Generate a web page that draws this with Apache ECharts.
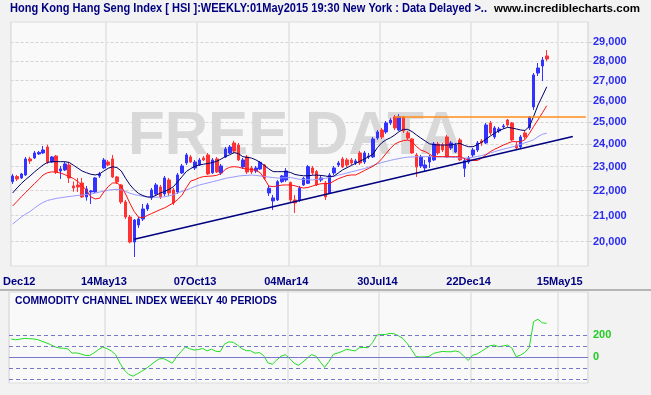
<!DOCTYPE html>
<html>
<head>
<meta charset="utf-8">
<script src="https://cdn.jsdelivr.net/npm/echarts@6.0.0/dist/echarts.min.js"></script>
<style>
html,body{margin:0;padding:0;background:#f2f2f2;overflow:hidden;}
#chart{width:651px;height:395px;}
</style>
</head>
<body>
<div id="chart"></div>
<script>
// ---------------- data ----------------
const weekCount = 133;                 // weekly slots on the axis (incl. empty right margin)
const firstWeekUTC = Date.UTC(2012, 11, 17);

const opens = [22370,22580,22522,22648,23334,23377,23552,23596,23860,23203,
23464,22818,22860,23074,22189,22230,22313,21739,21942,21942,
22606,22945,23203,23334,22564,22230,21537,20942,19988,20632,
20864,21257,21699,21861,22148,21861,22438,22024,21942,22733,
23160,23421,22945,23074,23377,23508,22740,23334,22733,23421,
23596,24040,23949,22988,23421,22945,22818,22903,23074,21901,
21577,21617,22368,22438,22327,21617,21617,22230,22300,22945,
22790,22438,22313,21901,22733,23074,23334,23290,23290,23160,
23596,23203,23421,23421,24264,24628,24537,24953,25233,24628,
25233,24491,24219,23508,23031,22945,23203,23290,23995,23949,
24310,23816,23640,24174,22930,23203,23508,23728,24129,24040,
24953,24310,24583,24768,25092,24953,23949,23860,24491,24722,
25710,27387,27747,28270];

const closes = [22606,22480,22690,23334,23247,23596,23620,23728,23203,23421,
22775,22903,23117,22522,22106,22148,21739,22065,21983,22522,
22690,23290,23074,22564,22355,21537,20942,19988,20825,20864,
21257,21416,22024,22230,21739,22522,21901,21497,22648,23031,
23508,23203,23203,23290,23290,22690,23290,22775,23031,23772,
23860,23684,23290,23290,22775,22775,22945,23185,22510,22094,
21699,22368,22606,22818,21617,21497,22094,22508,23002,22733,
22230,22522,21739,22648,22945,23160,22988,23074,23160,23247,
23160,23596,23464,24219,24537,24310,24953,25092,24722,25240,
24583,24264,23596,22988,23421,23074,23421,23995,23596,23728,
23421,24040,23949,23290,23260,23377,23728,24040,24040,24860,
24491,24722,24676,24814,24860,24174,23816,24310,24310,25233,
27285,27643,28060,28112];

const lows = [22272,22397,22480,22606,23117,23334,23508,23552,23117,23160,
22690,22480,22818,22313,21950,21942,21699,21590,21456,21901,
22522,22903,23031,22522,22272,21456,20864,19940,19437,20520,
20786,21178,21617,21779,21658,21779,21779,21416,21861,22690,
23074,23160,22860,23031,23247,22648,22690,22733,22648,23377,
23552,23596,23247,22903,22690,22690,22733,22860,22438,21779,
21217,21577,22313,22355,21497,21099,21537,22189,22272,22648,
22189,22355,21617,21861,22648,22988,22945,22988,23074,23074,
23074,23117,23334,23377,24174,24219,24446,24860,24628,24583,
24491,24174,23552,22564,22945,22775,22945,23247,23508,23640,
23377,23728,23596,23247,22564,23117,23421,23640,23905,23995,
24400,24219,24491,24676,24768,24129,23728,23816,24219,24628,
25564,27234,26980,28007];

const highs = [22690,22648,22733,23421,23430,23684,23684,23905,23960,23464,
23508,23031,23203,23210,22370,22522,22522,22189,22024,22564,
22775,23377,23290,23508,22606,22272,21617,21020,20864,20942,
21456,21497,22106,22313,22230,22606,22522,22106,22733,23117,
23596,23508,23290,23377,23464,23596,23377,23421,23117,23860,
23949,24140,24040,23377,23508,23031,23031,23247,23117,22189,
21820,22438,22648,22945,22370,21820,22189,22564,23074,23031,
22860,22606,22397,22733,23031,23247,23421,23377,23377,23334,
23684,23684,23596,24310,24628,24722,25046,25186,25327,25362,
25280,24583,24264,23596,23508,23290,23508,24084,24084,24040,
24400,24129,24040,24264,23377,23464,23816,24129,24219,24953,
25046,24814,24768,24906,25139,24999,24084,24400,24583,25280,
27387,27902,28218,28586];

// moving averages
const maShort = [21901,22106,22292,22459,22606,22775,22924,23074,23182,23216,
23216,23216,23216,23182,23061,22937,22814,22741,22678,22648,
22690,22818,22932,22997,22962,22818,22509,22238,22032,21881,
21795,21739,21731,21803,21901,21963,22049,22156,22359,22577,
22797,22920,23018,23074,23108,23138,23177,23234,23330,23438,
23517,23614,23565,23434,23403,23373,23294,23186,23044,22903,
22788,22788,22788,22788,22754,22669,22635,22614,22614,22635,
22644,22627,22606,22572,22602,22733,22864,22958,23053,23147,
23238,23334,23430,23543,23834,24049,24183,24273,24400,24555,
24656,24656,24551,24400,24260,24129,24000,23968,23949,23949,
23949,23953,23990,24017,23932,23873,23873,23958,24071,24210,
24351,24482,24592,24680,24750,24717,24676,24628,24606,24795,
25271,25804,26239,26692];

const maMid = [21376,21557,21747,21922,22102,22284,22455,22648,22741,22780,
22763,22733,22661,22585,22497,22376,22197,22012,21743,21658,
21686,21946,22160,22313,22313,22181,21857,21481,21151,20934,
20922,21000,21079,21154,21233,21301,21400,21497,21634,21812,
22119,22393,22451,22535,22581,22593,22606,22631,22716,22886,
22979,23001,22979,22932,22890,22890,22839,22746,22484,22181,
22160,22189,22226,22230,22230,22197,22139,22102,22127,22181,
22238,22280,22288,22288,22397,22489,22556,22623,22648,22648,
22737,22835,22928,23022,23151,23342,23574,23799,23986,24084,
24147,24169,24093,23882,23719,23658,23539,23434,23434,23434,
23434,23434,23434,23434,23351,23281,23273,23264,23364,23512,
23653,23759,23849,23945,24026,24098,24098,24098,24188,24468,
24796,25102,25431,25770];

const maLong = [20670,20806,20942,21059,21158,21289,21416,21517,21597,21638,
21679,21707,21731,21755,21779,21800,21820,21837,21857,21894,
21938,21975,22012,22040,22049,22032,21963,21889,21837,21800,
21767,21739,21727,21727,21731,21747,21784,21828,21901,21967,
22028,22090,22168,22230,22272,22317,22363,22405,22455,22505,
22539,22568,22602,22623,22631,22644,22631,22606,22585,22560,
22539,22518,22522,22530,22543,22505,22467,22459,22447,22438,
22459,22484,22505,22551,22593,22640,22686,22733,22780,22826,
22873,22920,22980,23053,23121,23177,23225,23273,23316,23351,
23390,23412,23421,23430,23434,23434,23434,23434,23425,23421,
23412,23408,23395,23382,23369,23373,23408,23443,23482,23539,
23596,23653,23710,23763,23812,23860,23909,23981,24049,24112,
24183,24328,24432,24482];

const cci = [166,159,165,172,170,167,162,147,132,117,
96,85,82,76,38,40,30,18,16,39,
69,93,79,58,23,-55,-116,-156,-172,-150,
-126,-103,-72,-41,-15,-11,-32,-54,4,50,
93,78,66,70,80,58,74,55,51,120,
140,137,110,78,60,60,37,43,15,-52,
-63,-25,10,23,-12,-54,-73,-43,-9,25,
10,-42,-92,-39,27,38,53,72,65,58,
87,90,87,133,202,208,207,218,214,195,
170,124,68,6,3,4,8,35,45,53,
51,50,58,48,8,-29,19,29,54,79,
105,111,96,103,111,85,6,19,45,89,
324,346,314,309];

const priceTicks = [20000,21000,22000,23000,24000,25000,26000,27000,28000,29000];
const cciTicks = [0, 200];
const cciDashedLevels = [-200, -100, 100, 200];
const xLabelIdx = [0, 21, 42, 63, 84, 105, 126];
const xLabelText = ['Dec12','14May13','07Oct13','04Mar14','30Jul14','22Dec14','15May15'];
const xGridIdx = [0, 22, 43, 64, 85, 106, 126];
const trendLine = [[28, 20090], [129, 24335]];
const resistanceLine = [[88, 25230], [132, 25230]];

// ---------------- chart ----------------
const MON = ['Jan','Feb','Mar','Apr','May','Jun','Jul','Aug','Sep','Oct','Nov','Dec'];
const weeks = [];
for (let i = 0; i < weekCount; i++) {
  const d = new Date(firstWeekUTC + i * 7 * 86400000);
  weeks.push(String(d.getUTCDate()).padStart(2,'0') + MON[d.getUTCMonth()] + String(d.getUTCFullYear()).slice(2));
}
const candles = opens.map((o, i) => [o, closes[i], lows[i], highs[i]]);
const labelMap = {};
xLabelIdx.forEach((k, j) => labelMap[k] = xLabelText[j]);

const FONT = '"Liberation Sans", Arial, sans-serif';
const mctx = document.createElement('canvas').getContext('2d');
function fitScale(text, font, width) { mctx.font = font; return width / mctx.measureText(text).width; }

const titleText = 'Hong Kong Hang Seng Index [ HSI ]:WEEKLY:01May2015 19:30 New York : Data Delayed >..';
const titleFont = 'bold 13px ' + FONT;
const siteText = 'www.incrediblecharts.com';
const siteFont = 'bold 11px ' + FONT;
const cciTitle = 'COMMODITY CHANNEL INDEX WEEKLY 40 PERIODS';
const cciFont = 'bold 10px ' + FONT;
const wmText = 'FREE DATA';
const wmFont = 'bold 62px ' + FONT;

const gridL = 9, gridW = 579;
const chart = echarts.init(document.getElementById('chart'), null, {renderer: 'canvas'});

const xLabelCommon = {
  color: '#000080', fontWeight: 'bold', fontSize: 11, fontFamily: FONT
};

chart.setOption({
  animation: false,
  backgroundColor: '#f2f2f2',
  grid: [
    {left: gridL, top: 22, width: gridW, height: 244, show: true, backgroundColor: '#f9f9f9', borderColor: '#dcdcdc', borderWidth: 1},
    {left: gridL, top: 292, width: gridW, height: 91, show: true, backgroundColor: '#f9f9f9', borderColor: '#dcdcdc', borderWidth: 1}
  ],
  xAxis: [
    {
      type: 'category', gridIndex: 0, data: weeks, boundaryGap: true,
      axisLine: {show: false}, axisTick: {show: false},
      axisLabel: Object.assign({
        interval: (i) => labelMap[i] !== undefined,
        formatter: (v, i) => i === 0 ? '{f|' + labelMap[i] + '}' : labelMap[i],
        margin: 10,
        rich: {f: Object.assign({padding: [0, 0, 0, 13]}, xLabelCommon)}
      }, xLabelCommon),
      splitLine: {show: true, interval: (i) => xGridIdx.includes(i), lineStyle: {color: '#e0e0e0', width: 1.5}}
    },
    {
      type: 'category', gridIndex: 1, data: weeks, boundaryGap: true,
      axisLine: {show: false}, axisTick: {show: false}, axisLabel: {show: false},
      splitLine: {show: true, interval: (i) => xGridIdx.includes(i), lineStyle: {color: '#e0e0e0', width: 1.5}}
    }
  ],
  yAxis: [
    {
      type: 'log', logBase: 10, gridIndex: 0, position: 'right', min: 19114, max: 30118,
      axisLine: {show: false},
      axisTick: {show: true, customValues: priceTicks, length: 4, lineStyle: {color: '#cfcfcf'}},
      axisLabel: {customValues: priceTicks, formatter: (v) => Number(v).toLocaleString('en-US'),
        color: '#2b2bf0', fontWeight: 'bold', fontSize: 11, fontFamily: FONT, margin: 5},
      splitLine: {show: true, lineStyle: {color: '#d4d4d4', type: [3, 2], width: 1}}
    },
    {
      type: 'value', gridIndex: 1, position: 'right', min: -234, max: 594,
      axisLine: {show: false}, axisTick: {show: false},
      axisLabel: {customValues: cciTicks, color: '#22cc22', fontWeight: 'bold', fontSize: 11, fontFamily: FONT, margin: 5},
      splitLine: {show: false}
    }
  ],
  graphic: {elements: [
    {type: 'text', x: 10, y: 2, z: 10, scaleX: fitScale(titleText, titleFont, 477),
      style: {text: titleText, font: titleFont, fill: '#000080', align: 'left', verticalAlign: 'top'}},
    {type: 'text', x: 494, y: 3, z: 10, scaleX: fitScale(siteText, siteFont, 146),
      style: {text: siteText, font: siteFont, fill: '#000000', align: 'left', verticalAlign: 'top'}},
    {type: 'text', x: 15, y: 296, z: 10, scaleX: fitScale(cciTitle, cciFont, 262),
      style: {text: cciTitle, font: cciFont, fill: '#000080', align: 'left', verticalAlign: 'top'}},
    {type: 'text', x: 128, y: 106, z: 1, scaleX: fitScale(wmText, wmFont, 335),
      style: {text: wmText, font: wmFont, fill: '#d8d8d8', align: 'left', verticalAlign: 'top'}},
    {type: 'line', z: 10, shape: {x1: 0, y1: 290, x2: 651, y2: 290}, style: {stroke: '#a0a0a0', lineWidth: 1.5}}
  ]},
  series: [
    {
      type: 'candlestick', xAxisIndex: 0, yAxisIndex: 0, data: candles, barWidth: 3, z: 3,
      itemStyle: {color: '#3333ff', color0: '#ff3333', borderColor: '#3333ff', borderColor0: '#ff3333', borderWidth: 1},
      markLine: {
        silent: true, symbol: 'none', label: {show: false}, animation: false,
        data: [
          [{coord: trendLine[0], lineStyle: {color: '#000080', width: 1.5, type: 'solid'}}, {coord: trendLine[1]}],
          [{coord: resistanceLine[0], lineStyle: {color: '#ff8c1a', width: 1.5, type: 'solid'}}, {coord: resistanceLine[1]}]
        ]
      }
    },
    {type: 'line', xAxisIndex: 0, yAxisIndex: 0, data: maLong, symbol: 'none', z: 4, lineStyle: {color: '#9999ff', width: 1}},
    {type: 'line', xAxisIndex: 0, yAxisIndex: 0, data: maMid, symbol: 'none', z: 4, lineStyle: {color: '#ff1111', width: 1}},
    {type: 'line', xAxisIndex: 0, yAxisIndex: 0, data: maShort, symbol: 'none', z: 4, lineStyle: {color: '#000066', width: 1}},
    {
      type: 'line', xAxisIndex: 1, yAxisIndex: 1, data: cci, symbol: 'none', z: 4,
      lineStyle: {color: '#22dd22', width: 1},
      markLine: {
        silent: true, symbol: 'none', label: {show: false}, animation: false,
        lineStyle: {color: '#7777cc', width: 1, type: [4, 3]},
        data: cciDashedLevels.map(v => ({yAxis: v})).concat([{yAxis: 0, lineStyle: {type: 'solid', color: '#7777cc'}}])
      }
    }
  ]
});
</script>
</body>
</html>
